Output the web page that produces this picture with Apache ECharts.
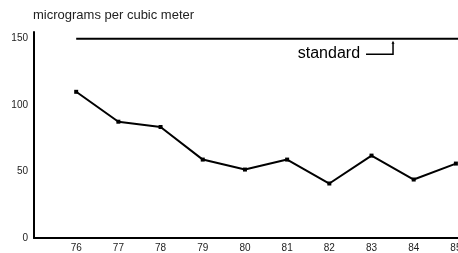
<!DOCTYPE html>
<html><head><meta charset="utf-8">
<script src="https://cdn.jsdelivr.net/npm/echarts@6/dist/echarts.min.js"></script>
<style>html,body{margin:0;padding:0;background:#fff}#c{width:458px;height:253px}</style>
</head><body><div id="c"></div>
<script>
var years = ['76','77','78','79','80','81','82','83','84','85'];
var values = [110, 87.5, 83.5, 59, 51.5, 59, 41, 62, 44, 56];
var standardValue = 150;
var yTicks = [0, 50, 100, 150];
var yTitle = 'micrograms per cubic meter';
var standardLabel = 'standard';

var chart = echarts.init(document.getElementById('c'), null, {renderer:'canvas'});
var font = 'Liberation Sans, Arial, sans-serif';
var xMin = 75, xMax = 85.05;
var titleGraphic = {type:'text', left:33, top:9, style:{text:yTitle, fontSize:13, fontFamily:font, fill:'#222'}};
chart.setOption({
  animation:false,
  grid:{left:34, right:0, top:32, bottom:15, outerBoundsMode:'none', containLabel:false},
  xAxis:{type:'value', min:xMin, max:xMax, interval:1,
    axisLine:{lineStyle:{color:'#000', width:2}}, axisTick:{show:false}, splitLine:{show:false},
    axisLabel:{color:'#222', fontSize:10, fontFamily:font, margin:5, showMaxLabel:false, showMinLabel:false,
      formatter:function(v){var s=String(Math.round(v)); return years.indexOf(s)>=0 && Math.abs(v-Math.round(v))<1e-6 ? s : '';}}},
  yAxis:{type:'value', min:0, max:155, interval:50,
    axisLine:{show:true, lineStyle:{color:'#000', width:2}}, axisTick:{show:false}, splitLine:{show:false},
    axisLabel:{color:'#222', fontSize:10, fontFamily:font, margin:6, showMaxLabel:false,
      formatter:function(v){return yTicks.indexOf(v)>=0 ? String(v) : '';}}},
  graphic:[titleGraphic],
  series:[
    {type:'line', data: years.map(function(y,i){return [Number(y), values[i]];}),
     lineStyle:{color:'#000', width:2}, itemStyle:{color:'#000'}, symbol:'rect', symbolSize:4, showSymbol:true},
    {type:'line', data: [[Number(years[0]), standardValue],[xMax, standardValue]],
     lineStyle:{color:'#000', width:2}, symbol:'none'}
  ]
});
var tip = chart.convertToPixel({gridIndex:0}, [83.51, standardValue]);
var tx = tip[0], ty = tip[1];
chart.setOption({graphic:[
  titleGraphic,
  {type:'text', x:tx-33, y:ty+14.5, style:{text:standardLabel, fontSize:16, fontFamily:font, fill:'#000', align:'right', verticalAlign:'middle'}},
  {type:'polyline', shape:{points:[[tx-27,ty+15.5],[tx,ty+15.5],[tx,ty+4]]}, style:{stroke:'#000', lineWidth:1.5, fill:null}},
  {type:'polygon', shape:{points:[[tx-1.5,ty+5],[tx+1.5,ty+5],[tx,ty+2]]}, style:{fill:'#000'}}
]});
</script></body></html>
